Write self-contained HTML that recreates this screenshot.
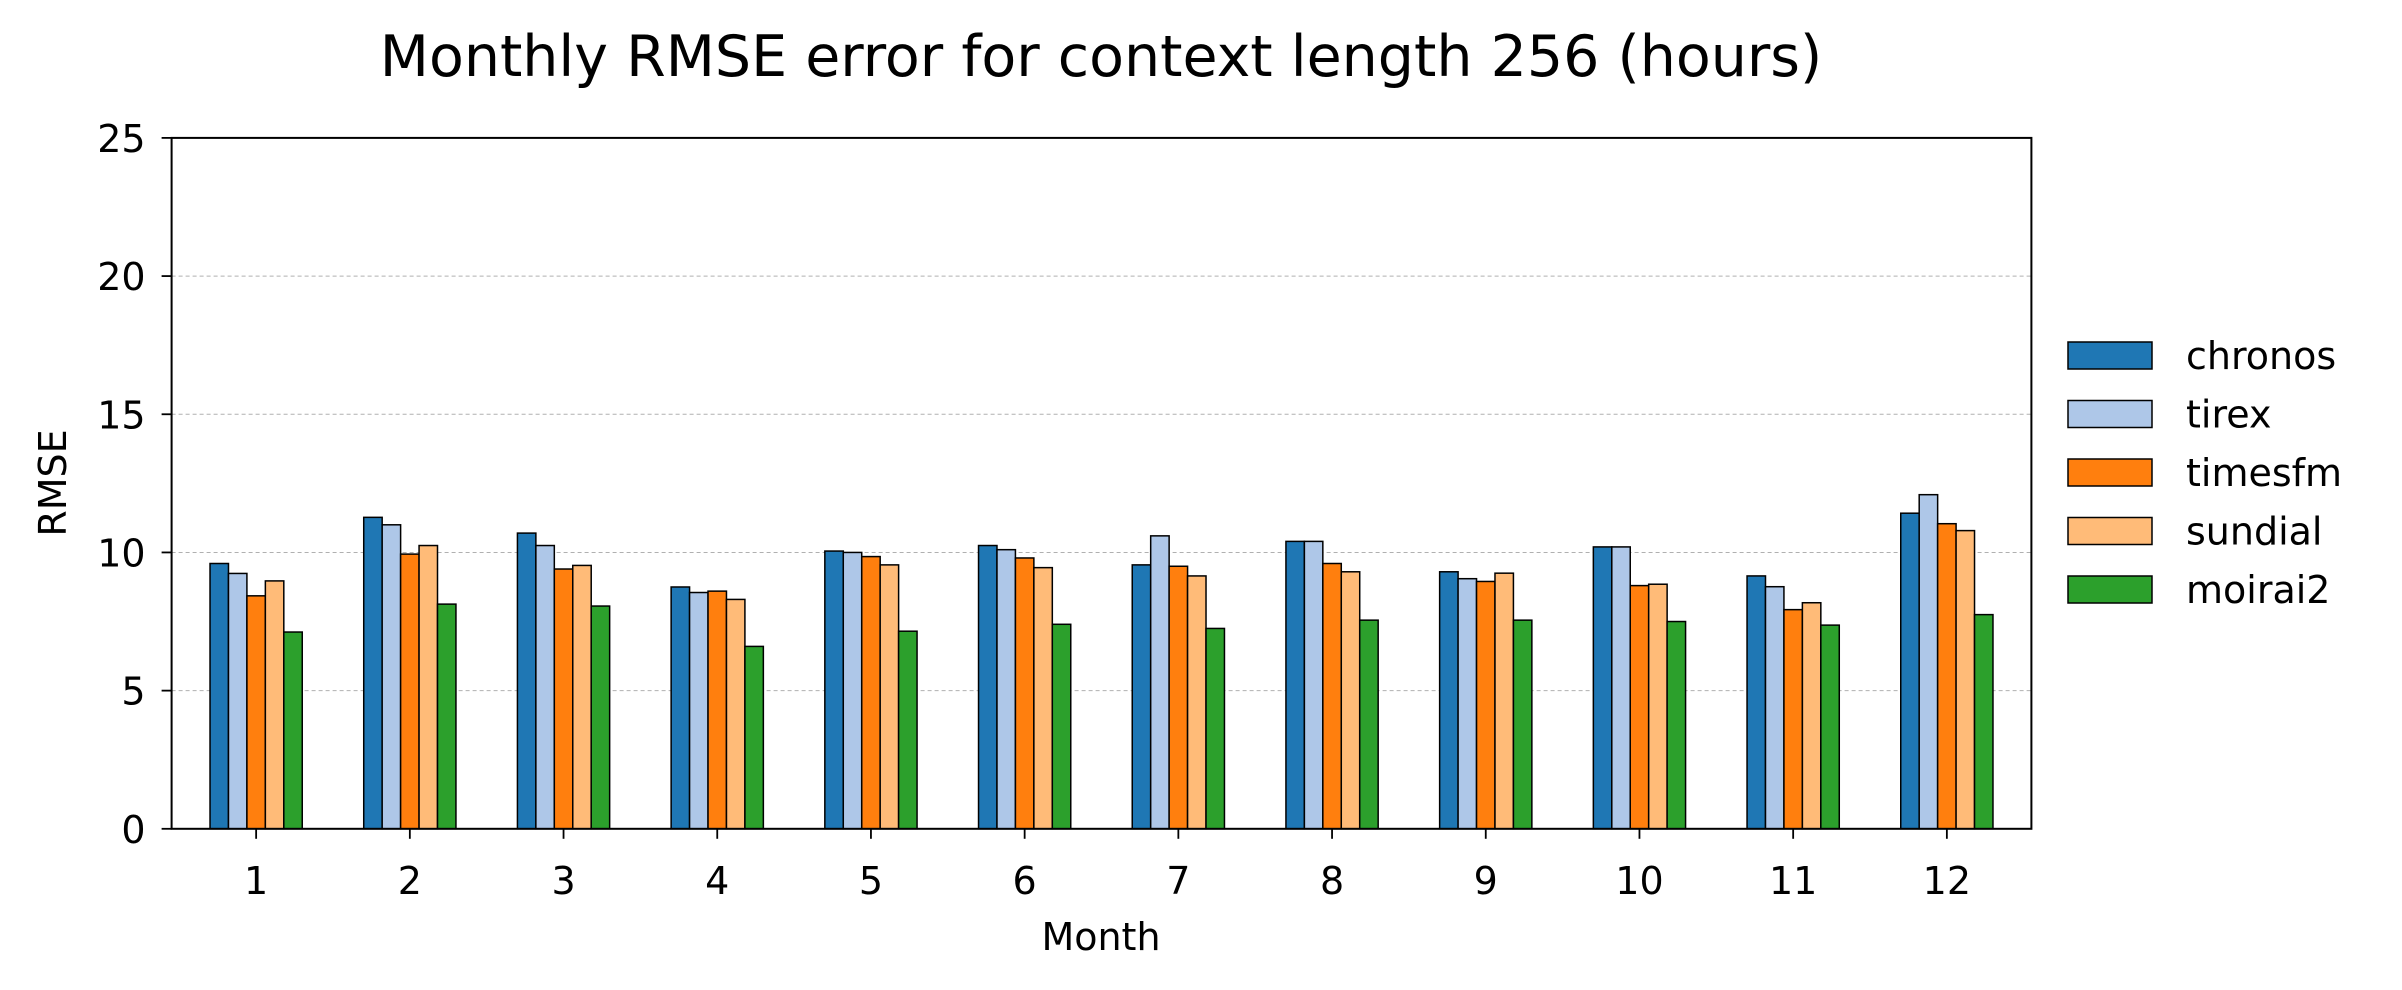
<!DOCTYPE html>
<html><head><meta charset="utf-8"><style>
html,body{margin:0;padding:0;background:#fff;}
svg{display:block;font-family:"DejaVu Sans","Liberation Sans",sans-serif;}
</style></head><body>
<svg id="chart" width="2402" height="990" viewBox="0 0 2402 990" xmlns="http://www.w3.org/2000/svg">
<text x="1101" y="76" font-size="57" text-anchor="middle" fill="#000">Monthly RMSE error for context length 256 (hours)</text>
<g id="grid"></g><g id="bars"></g><g id="axes"></g><g id="legend"></g>
<text x="1101" y="950" font-size="38" text-anchor="middle">Month</text>
<text transform="translate(66,483) rotate(-90)" font-size="38" text-anchor="middle">RMSE</text>
</svg>
<script>
const months = ["1","2","3","4","5","6","7","8","9","10","11","12"];
const seriesNames = ["chronos","tirex","timesfm","sundial","moirai2"];
const seriesColors = ["#1f77b4","#aec7e8","#ff7f0e","#ffbb78","#2ca02c"];
const chronos = [9.6,11.27,10.7,8.75,10.05,10.25,9.55,10.4,9.3,10.2,9.15,11.42];
const tirex   = [9.24,11.0,10.25,8.55,10.0,10.1,10.6,10.4,9.05,10.2,8.76,12.09];
const timesfm = [8.43,9.94,9.4,8.6,9.85,9.8,9.5,9.6,8.95,8.8,7.93,11.04];
const sundial = [8.97,10.25,9.53,8.3,9.55,9.45,9.15,9.3,9.25,8.85,8.18,10.79];
const moirai2 = [7.12,8.13,8.06,6.6,7.15,7.4,7.25,7.55,7.55,7.5,7.37,7.75];
const yTicks = [0,5,10,15,20,25];

const seriesData=[chronos,tirex,timesfm,sundial,moirai2];
const NS="http://www.w3.org/2000/svg";
const L=171.6,R=2031.4,T=137.9,B=828.8;
const xMin=-0.55,xMax=11.55,yMax=25;
const xs=v=>L+(v-xMin)/(xMax-xMin)*(R-L);
const ys=v=>B-v/yMax*(B-T);
function mk(p,tag,attrs){const e=document.createElementNS(NS,tag);for(const k in attrs)e.setAttribute(k,attrs[k]);p.appendChild(e);return e;}
const grid=document.getElementById('grid'),bars=document.getElementById('bars'),axes=document.getElementById('axes'),legend=document.getElementById('legend');
yTicks.forEach(t=>{
  if(t>0&&t<yMax){const g=mk(grid,'line',{x1:L,x2:R,y1:ys(t),y2:ys(t),stroke:'#b0b0b0','stroke-width':1,'stroke-dasharray':'4,3'});
  
  }
  const tk=mk(axes,'line',{x1:L-10,x2:L,y1:ys(t),y2:ys(t),stroke:'#000','stroke-width':1.8});
  
  
  const tx=mk(axes,'text',{x:L-26,y:ys(t)+14,'font-size':38,'text-anchor':'end'});tx.textContent=t;
  
  
});
const bw=0.12;
months.forEach((m,i)=>{
  seriesData.forEach((arr,s)=>{
    const x0=xs(i-0.3+s*bw),x1=xs(i-0.3+(s+1)*bw);
    const r=mk(bars,'rect',{x:x0,y:ys(arr[i]),width:x1-x0,height:ys(0)-ys(arr[i]),fill:seriesColors[s],stroke:'#000','stroke-width':1.5});
    
    
  });
  const tk=mk(axes,'line',{x1:xs(i),x2:xs(i),y1:B,y2:B+10,stroke:'#000','stroke-width':1.8});
  
  
  const tx=mk(axes,'text',{x:xs(i),y:B+65,'font-size':38,'text-anchor':'middle'});tx.textContent=m;
  
  
});
const fr=mk(axes,'rect',{x:L,y:T,width:R-L,height:B-T,fill:'none',stroke:'#000','stroke-width':2});


seriesNames.forEach((n,s)=>{
  const y=342+s*58.5;
  const r=mk(legend,'rect',{x:2068,y:y,width:84,height:27,fill:seriesColors[s],stroke:'#000','stroke-width':1.5});
  
  
  const t=mk(legend,'text',{x:2186,y:y+27,'font-size':38});t.textContent=n;
  
  
});
</script>
</body></html>
